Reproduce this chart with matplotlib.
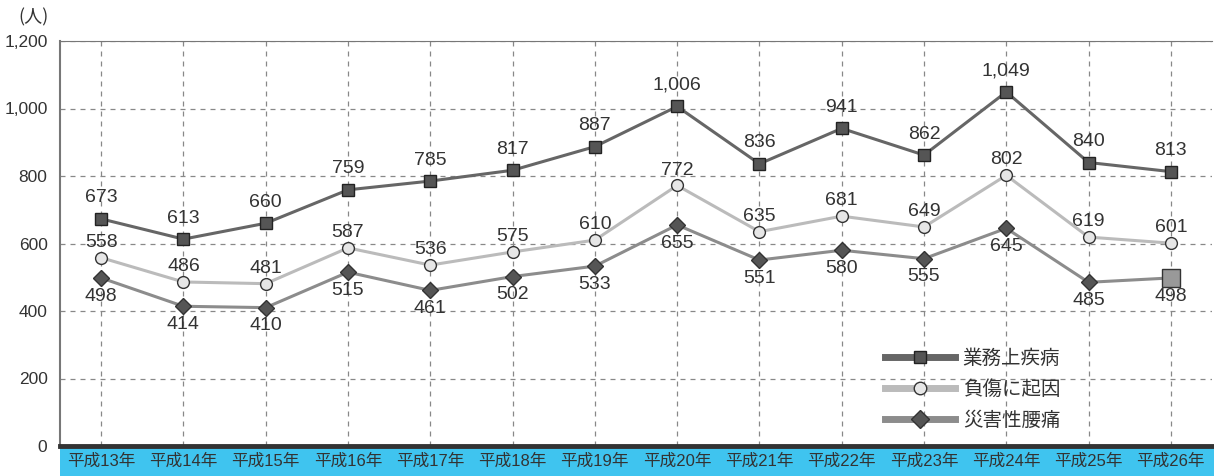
import matplotlib
matplotlib.use("Agg")
import matplotlib.pyplot as plt
from matplotlib.lines import Line2D

plt.rcParams['font.family'] = ['Liberation Sans', 'Noto Sans CJK JP', 'DejaVu Sans']

years = ["平成13年", "平成14年", "平成15年", "平成16年", "平成17年", "平成18年", "平成19年",
         "平成20年", "平成21年", "平成22年", "平成23年", "平成24年", "平成25年", "平成26年"]
gyomu = [673, 613, 660, 759, 785, 817, 887, 1006, 836, 941, 862, 1049, 840, 813]
fusho = [558, 486, 481, 587, 536, 575, 610, 772, 635, 681, 649, 802, 619, 601]
yotsu = [498, 414, 410, 515, 461, 502, 533, 655, 551, 580, 555, 645, 485, 498]
names = ["業務上疾病", "負傷に起因", "災害性腰痛"]

W, H = 1214, 476
fig = plt.figure(figsize=(W / 100, H / 100), dpi=100)

# cyan band under the axis
band = fig.add_axes([60 / W, 0, 1 - 60 / W, 30 / H])
band.set_facecolor("#3fc4ef")
band.set_xticks([]); band.set_yticks([])
for s in band.spines.values():
    s.set_visible(False)
band.set_zorder(0)

ax = fig.add_axes([60 / W, 30 / H, 1152 / W, 405 / H])
ax.set_zorder(1)
x = list(range(len(years)))

ax.plot(x, gyomu, color="#666666", lw=2.2, marker="s", ms=8.5,
        mfc="#555555", mec="#222222", mew=1.0, zorder=5)
ax.plot(x, fusho, color="#bbbbbb", lw=2.2, marker="o", ms=8.5,
        mfc="#e6e6e6", mec="#333333", mew=1.0, zorder=4)
ax.plot(x[:-1], yotsu[:-1], color="#8c8c8c", lw=2.2, marker="D", ms=8,
        mfc="#555555", mec="#333333", mew=1.0, zorder=4)
ax.plot(x[-2:], yotsu[-2:], color="#8c8c8c", lw=2.2, zorder=3)
ax.plot(x[-1], yotsu[-1], marker="s", ms=13, mfc="#999999", mec="#333333",
        mew=1.0, ls="none", zorder=5)

for i in x:
    ax.annotate(f"{gyomu[i]:,}", (i, gyomu[i]), xytext=(0, 9), textcoords="offset points",
                ha="center", va="bottom", fontsize=14, color="#333333")
    ax.annotate(f"{fusho[i]:,}", (i, fusho[i]), xytext=(0, 5), textcoords="offset points",
                ha="center", va="bottom", fontsize=14, color="#333333")
    ax.annotate(f"{yotsu[i]:,}", (i, yotsu[i]), xytext=(0, -7), textcoords="offset points",
                ha="center", va="top", fontsize=14, color="#333333")

ax.set_xlim(-0.5, len(years) - 0.5)
ax.set_ylim(0, 1200)
ax.set_yticks(range(0, 1201, 200))
ax.set_yticklabels([f"{v:,}" for v in range(0, 1201, 200)], fontsize=12.5, color="#333333")
ax.set_xticks(x)
ax.set_xticklabels(years, fontsize=12, color="#333333")
ax.tick_params(axis="x", length=0, pad=5)
ax.tick_params(axis="y", length=0, pad=9)

ax.grid(True, ls=(0, (4, 4)), color="#888888", lw=0.9)
ax.set_axisbelow(True)
ax.spines["right"].set_visible(False)
ax.spines["top"].set_color("#777777")
ax.spines["left"].set_color("#777777")
ax.spines["left"].set_linewidth(1.5)
ax.spines["bottom"].set_color("#333333")
ax.spines["bottom"].set_linewidth(3.5)

fig.text(18 / W, 1 - 17 / H, "(人)", fontsize=13, color="#333333", va="center",
         family=["Noto Sans CJK JP", "DejaVu Sans"])

handles = [
    Line2D([], [], color="#666666", lw=5, marker="s", ms=9, mfc="#555555", mec="#222222"),
    Line2D([], [], color="#bbbbbb", lw=5, marker="o", ms=9, mfc="#e6e6e6", mec="#333333"),
    Line2D([], [], color="#8c8c8c", lw=5, marker="D", ms=9, mfc="#555555", mec="#333333"),
]
fig.legend(handles, names, loc="upper left", bbox_to_anchor=(885 / W, 1 - 348 / H),
           frameon=False, fontsize=14, handlelength=3.6, labelspacing=0.5,
           handletextpad=0.4, borderpad=0, borderaxespad=0, labelcolor="#333333",
           prop={"family": ["Noto Sans CJK JP"], "size": 14})

fig.savefig("out.png", dpi=100)
